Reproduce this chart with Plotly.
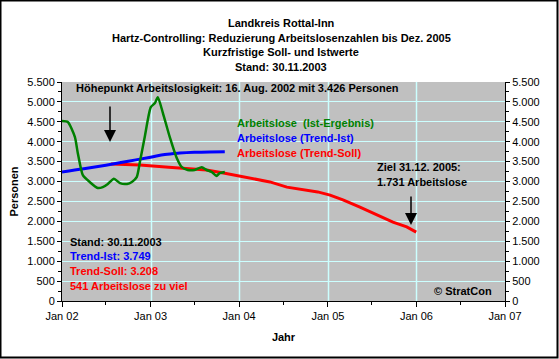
import plotly.graph_objects as go

# ---------------- data ----------------
ist_dates = ["2002-01-01", "2002-01-25", "2002-02-23", "2002-03-07", "2002-03-28", "2002-04-25",
             "2002-05-28", "2002-06-18", "2002-07-09", "2002-08-03", "2002-08-28", "2002-09-26",
             "2002-10-16", "2002-11-05", "2002-11-18", "2002-12-08", "2003-01-02", "2003-01-19",
             "2003-01-31", "2003-02-21", "2003-03-21", "2003-04-19", "2003-05-10", "2003-06-03",
             "2003-07-02", "2003-07-31", "2003-08-20", "2003-09-10", "2003-09-30", "2003-10-13",
             "2003-11-03"]
ist_values = [4520, 4495, 4120, 3720, 3160, 2990,
              2840, 2860, 2940, 3070, 2960, 2940,
              2990, 3110, 3490, 4120, 4870, 4970,
              5120, 4720, 4120, 3590, 3360, 3290,
              3290, 3360, 3290, 3240, 3140, 3210,
              3240]

trend_ist_dates = ["2002-01-01", "2002-04-01", "2002-07-01", "2002-10-01", "2003-01-01",
                   "2003-03-01", "2003-05-01", "2003-07-01", "2003-09-01", "2003-11-03"]
trend_ist_values = [3240, 3320, 3410, 3510, 3610, 3680, 3715, 3735, 3745, 3749]

trend_soll_dates = ["2002-07-22", "2002-11-18", "2003-03-17", "2003-08-20", "2003-11-03",
                    "2004-01-04", "2004-05-07", "2004-07-16", "2004-11-20", "2005-01-10",
                    "2005-03-04", "2005-05-13", "2005-07-22", "2005-09-26", "2005-11-22",
                    "2005-12-31"]
trend_soll_values = [3440, 3415, 3360, 3290, 3208,
                     3140, 2990, 2860, 2740, 2660,
                     2540, 2360, 2160, 1980, 1860,
                     1731]

y_tickvals = [0, 500, 1000, 1500, 2000, 2500, 3000, 3500, 4000, 4500, 5000, 5500]
y_ticktext = ["0", "500", "1.000", "1.500", "2.000", "2.500", "3.000", "3.500",
              "4.000", "4.500", "5.000", "5.500"]
x_years = [2002, 2003, 2004, 2005, 2006, 2007]
x_tickvals = ["2002-01-01", "2003-01-01", "2004-01-01", "2005-01-01", "2006-01-01", "2007-01-01"]
x_ticktext = ["Jan 02", "Jan 03", "Jan 04", "Jan 05", "Jan 06", "Jan 07"]

title_lines = ["Landkreis Rottal-Inn",
               "Hartz-Controlling: Reduzierung Arbeitslosenzahlen bis Dez. 2005",
               "Kurzfristige Soll- und Istwerte",
               "Stand: 30.11.2003"]

# ---------------- geometry helpers ----------------
W, H = 559, 359
L, R, T, B = 62, 505, 82, 301


def px(x):
    return (x - L) / (R - L)


def py(y):
    return (B - y) / (B - T)


FONT = "Arial, Liberation Sans, sans-serif"
GREEN, BLUE, RED = "#008000", "#0000FF", "#FF0000"
GRID = "#CCFFFF"

fig = go.Figure()
fig.add_trace(go.Scatter(x=trend_soll_dates, y=trend_soll_values, mode="lines",
                         line=dict(color=RED, width=3), name="Arbeitslose (Trend-Soll)"))
fig.add_trace(go.Scatter(x=trend_ist_dates, y=trend_ist_values, mode="lines",
                         line=dict(color=BLUE, width=3, shape="spline"), name="Arbeitslose (Trend-Ist)"))
fig.add_trace(go.Scatter(x=ist_dates, y=ist_values, mode="lines",
                         line=dict(color=GREEN, width=2.5, shape="spline", smoothing=0.6),
                         name="Arbeitslose (Ist-Ergebnis)"))
fig.add_trace(go.Scatter(x=[x_tickvals[0]], y=[0], yaxis="y2", mode="markers",
                         marker=dict(opacity=0), showlegend=False, hoverinfo="skip"))

fig.update_layout(
    width=W, height=H,
    margin=dict(l=L, r=W - R, t=T, b=H - B, pad=0),
    paper_bgcolor="white", plot_bgcolor="#C0C0C0",
    showlegend=False,
    font=dict(family=FONT, size=11, color="black"),
    xaxis=dict(type="date", range=["2002-01-01", "2007-01-01"], tickvals=x_tickvals, ticktext=x_ticktext,
               showgrid=False, showline=True, linecolor="black", linewidth=1,
               ticks="outside", ticklen=5, tickcolor="black", zeroline=False, ticklabelstandoff=0,
               minor=dict(tickvals=["2002-07-01", "2003-07-01", "2004-07-01", "2005-07-01", "2006-07-01"],
                          ticks="outside", ticklen=3, tickcolor="black", showgrid=False),
               title=dict(text="<b>Jahr</b>", standoff=12, font=dict(size=11)),
               tickfont=dict(size=11)),
    yaxis=dict(range=[0, 5500], tickvals=y_tickvals, ticktext=y_ticktext, showgrid=True, gridcolor=GRID,
               showline=True, linecolor="black", linewidth=1, ticks="outside", ticklen=4, tickcolor="black",
               zeroline=False,
               minor=dict(dtick=250, ticks="outside", ticklen=3, tickcolor="black", showgrid=False),
               title=dict(text="<b>Personen</b>", standoff=6, font=dict(size=11)),
               tickfont=dict(size=11)),
    yaxis2=dict(range=[0, 5500], overlaying="y", side="right", tickvals=y_tickvals, ticktext=y_ticktext,
                showgrid=False, showline=True, linecolor="black", linewidth=1, ticks="outside", ticklen=4,
                tickcolor="black", zeroline=False,
                minor=dict(dtick=250, ticks="outside", ticklen=3, tickcolor="black", showgrid=False),
                tickfont=dict(size=11)),
)

# vertical year gridlines
for yr in x_years[1:-1]:
    pix = round(L + (yr - x_years[0]) / (x_years[-1] - x_years[0]) * (R - L)) + 0.5
    fig.add_shape(type="line", xref="paper", yref="paper", x0=px(pix), x1=px(pix), y0=0, y1=1,
                  line=dict(color=GRID, width=1.5), layer="below")


def txt(x, y, s, color="black", anchor="left"):
    fig.add_annotation(x=px(x), y=py(y), xref="paper", yref="paper", text="<b>" + s + "</b>",
                       showarrow=False, xanchor=anchor, yanchor="middle",
                       font=dict(family=FONT, size=11, color=color))


# title lines
for i, line in enumerate(title_lines):
    txt(281, 23 + i * 14.7, line, anchor="center")

txt(74, 88, "Höhepunkt Arbeitslosigkeit: 16. Aug. 2002 mit 3.426 Personen")
txt(235, 123, "Arbeitslose\u00a0 (Ist-Ergebnis)", GREEN)
txt(235, 138, "Arbeitslose (Trend-Ist)", BLUE)
txt(235, 153, "Arbeitslose (Trend-Soll)", RED)
txt(375, 167, "Ziel 31.12. 2005:")
txt(375, 182, "1.731 Arbeitslose")
txt(68, 242, "Stand: 30.11.2003")
txt(68, 256, "Trend-Ist: 3.749", BLUE)
txt(68, 271, "Trend-Soll: 3.208", RED)
txt(68, 286, "541 Arbeitslose zu viel", RED)
txt(432, 291, "© StratCon")

# arrows
for (ax_, top, tip) in [(110, 105, 142), (411, 195, 225)]:
    fig.add_annotation(x=px(ax_), y=py(tip), xref="paper", yref="paper", text="",
                       showarrow=True, ax=0, ay=-(tip - top), axref="pixel", ayref="pixel",
                       arrowhead=2, arrowsize=1.6, arrowwidth=1.5, arrowcolor="black")

# outer frame
fig.add_shape(type="rect", xref="paper", yref="paper",
              x0=px(0.5), x1=px(557.5), y0=py(357.5), y1=py(0.5),
              line=dict(color="black", width=2), fillcolor="rgba(0,0,0,0)", layer="above")

fig.write_html("out.html", config={"displayModeBar": False},
               post_script="document.body.style.margin='0';document.body.style.padding='0';"
                           "document.body.style.overflow='hidden';")
